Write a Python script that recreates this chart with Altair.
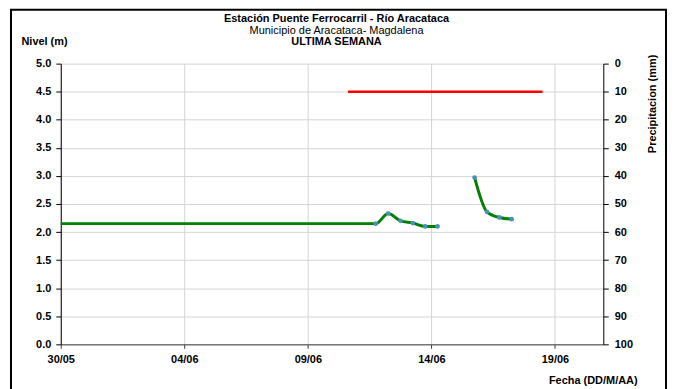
import altair as alt
import pandas as pd

# ---------------- data ----------------
fechas_nivel = [
    "2011-05-30T00:00:00Z", "2011-06-11T18:00:00Z", "2011-06-12T06:00:00Z",
    "2011-06-12T18:00:00Z", "2011-06-13T06:00:00Z", "2011-06-13T18:00:00Z",
    "2011-06-14T06:00:00Z", "2011-06-15T18:00:00Z", "2011-06-16T06:00:00Z",
    "2011-06-16T18:00:00Z", "2011-06-17T06:00:00Z",
]
nivel_m = [2.15, 2.15, 2.33, 2.20, 2.16, 2.10, 2.10, 2.97, 2.36, 2.26, 2.23]
tramo = [1, 1, 1, 1, 1, 1, 1, 2, 2, 2, 2]
marcador = [False, True, True, True, True, True, True, True, True, True, True]

fechas_precip = ["2011-06-10T15:00:00Z", "2011-06-18T12:00:00Z"]
precip_mm = [10, 10]

titulo = "Estación Puente Ferrocarril - Río Aracataca"
subtitulo = "Municipio de Aracataca- Magdalena"
periodo = "ULTIMA SEMANA"

ticks_fecha = [(2011, 5, 30), (2011, 6, 4), (2011, 6, 9), (2011, 6, 14), (2011, 6, 19)]
ticks_nivel = [0.0, 0.5, 1.0, 1.5, 2.0, 2.5, 3.0, 3.5, 4.0, 4.5, 5.0]
ticks_precip = [0, 10, 20, 30, 40, 50, 60, 70, 80, 90, 100]

# ---------------- build ----------------
W, H = 545, 282
FONT = "Liberation Sans"

df_nivel = pd.DataFrame({"fecha": fechas_nivel, "nivel": nivel_m,
                         "tramo": tramo, "marcador": marcador})
df_precip = pd.DataFrame({"fecha": fechas_precip, "precip": precip_mm})

x_enc = alt.X(
    "fecha:T",
    scale=alt.Scale(type="utc", nice=False, domain=[
        alt.DateTime(year=2011, month=5, date=30, utc=True),
        alt.DateTime(year=2011, month=6, date=20, hours=23, utc=True)]),
    axis=alt.Axis(
        values=[alt.DateTime(year=y, month=m, date=d, utc=True) for y, m, d in ticks_fecha],
        labelExpr="utcFormat(datum.value, '%d/%m')",
        labelFont=FONT, labelFontSize=11,
        labelFontWeight="bold", labelColor="black", labelPadding=5, labelFlush=False,
        tickSize=4, tickColor="#404040", domainColor="#404040",
        grid=True, gridColor="#d4d4d4",
        title="Fecha (DD/M/AA)", titleFont=FONT, titleFontSize=11, titleFontWeight="bold",
        titleColor="black", titleAlign="right", titleBaseline="middle",
        titleX=579, titleY=36, titleAnchor="end"),
)

y_nivel = alt.Y(
    "nivel:Q",
    scale=alt.Scale(domain=[0, 5], nice=False),
    axis=alt.Axis(
        values=ticks_nivel, format=".1f", orient="left", labelFont=FONT, labelFontSize=11,
        labelFontWeight="bold", labelColor="black", labelPadding=5,
        tickSize=5, tickColor="black", domainColor="black",
        grid=True, gridColor="#d4d4d4",
        title="Nivel (m)", titleFont=FONT, titleFontSize=11, titleFontWeight="bold",
        titleColor="black", titleAngle=0, titleAlign="left", titleBaseline="middle",
        titleX=-40, titleY=-22),
)

linea = alt.Chart(df_nivel).mark_line(
    color="#008000", strokeWidth=3, interpolate="monotone"
).encode(x=x_enc, y=y_nivel, detail="tramo:N")

puntos = alt.Chart(df_nivel).transform_filter(
    alt.datum.marcador == True
).mark_circle(color="#4a90b8", size=22, opacity=1).encode(x=x_enc, y=y_nivel)

nivel_layer = alt.layer(linea, puntos)

precip = alt.Chart(df_precip).mark_line(color="#ff0000", strokeWidth=2.5).encode(
    x=x_enc,
    y=alt.Y("precip:Q",
            scale=alt.Scale(domain=[0, 100], reverse=True, nice=False),
            axis=alt.Axis(
                values=ticks_precip, format="d", orient="right", labelFont=FONT,
                labelFontSize=11, labelFontWeight="bold", labelColor="black",
                labelPadding=6, tickSize=5, tickColor="black", domainColor="black",
                grid=False,
                title="Precipitacion (mm)", titleFont=FONT, titleFontSize=11,
                titleFontWeight="bold", titleColor="black", titleAngle=270,
                titleAlign="center", titleBaseline="middle", titleX=49, titleY=40)),
)

uno = alt.Data(values=[{"a": 1}])

marco = alt.Chart(uno).mark_rect(
    fillOpacity=0, stroke="black", strokeWidth=2
).encode(x=alt.value(-50), x2=alt.value(608), y=alt.value(-54), y2=alt.value(345))

t1 = alt.Chart(alt.Data(values=[{"t": titulo}])).mark_text(
    font=FONT, fontSize=11, fontWeight="bold", color="black", align="center", baseline="middle"
).encode(text="t:N", x=alt.value(277), y=alt.value(-45))
t2 = alt.Chart(alt.Data(values=[{"t": subtitulo}])).mark_text(
    font=FONT, fontSize=11, color="black", align="center", baseline="middle"
).encode(text="t:N", x=alt.value(277), y=alt.value(-33))
t3 = alt.Chart(alt.Data(values=[{"t": periodo}])).mark_text(
    font=FONT, fontSize=11, fontWeight="bold", color="black", align="center", baseline="middle"
).encode(text="t:N", x=alt.value(277), y=alt.value(-22))

chart = alt.layer(
    nivel_layer, precip, marco, t1, t2, t3
).resolve_scale(y="independent").properties(
    width=W, height=H,
    autosize=alt.AutoSizeParams(type="none"),
    padding={"left": 53, "top": 55, "right": 66, "bottom": 45},
    background="white",
).configure_view(stroke=None)

chart.save("out.html", embed_options={"renderer": "svg", "actions": False})
